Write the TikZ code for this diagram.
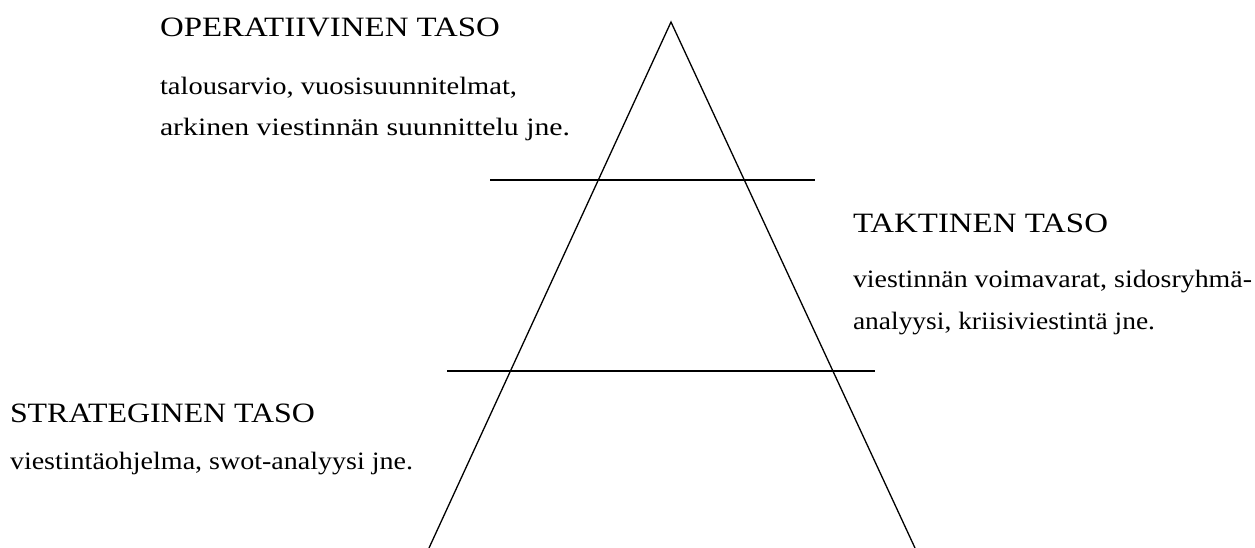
\documentclass[tikz,border=0pt]{standalone}
\usepackage{fontspec}
\setmainfont{Liberation Serif}
\usepackage{graphicx}
\newcommand{\fitto}[2]{\resizebox{#1pt}{\height}{#2}}
\begin{document}
\begin{tikzpicture}[x=1pt,y=-1pt,
  lbl/.style={anchor=base west,inner sep=0pt,outer sep=0pt,font=\fontsize{25}{30}\selectfont},
  titlelbl/.style={lbl,font=\fontsize{28}{32}\selectfont},
  edge/.style={line width=1.3pt,black}]
\useasboundingbox (0,0) rectangle (1255,548);
\coordinate (apex) at (671,22);
\coordinate (bl) at (429,548);
\coordinate (br) at (915,548);
\coordinate (l1a) at (490,180);
\coordinate (l1b) at (815,180);
\coordinate (l2a) at (447,371);
\coordinate (l2b) at (875,371);
\draw[edge] (bl) -- (apex) -- (br);
\draw[edge] (l1a) -- (l1b);
\draw[edge] (l2a) -- (l2b);
\node[titlelbl] (op) at (160,37) {\fitto{340}{OPERATIIVINEN TASO}};
\node[lbl] (op1) at (160,95) {\fitto{357}{talousarvio, vuosisuunnitelmat,}};
\node[lbl] (op2) at (160,136) {\fitto{410}{arkinen viestinnän suunnittelu jne.}};
\node[titlelbl] (ta) at (853,233) {\fitto{255}{TAKTINEN TASO}};
\node[lbl] (ta1) at (853,287) {\fitto{399}{viestinnän voimavarat, sidosryhmä-}};
\node[lbl] (ta2) at (853,329) {\fitto{302}{analyysi, kriisiviestintä jne.}};
\node[titlelbl] (st) at (10,422) {\fitto{305}{STRATEGINEN TASO}};
\node[lbl] (st1) at (10,469) {\fitto{403}{viestintäohjelma, swot-analyysi jne.}};
\end{tikzpicture}
\end{document}
